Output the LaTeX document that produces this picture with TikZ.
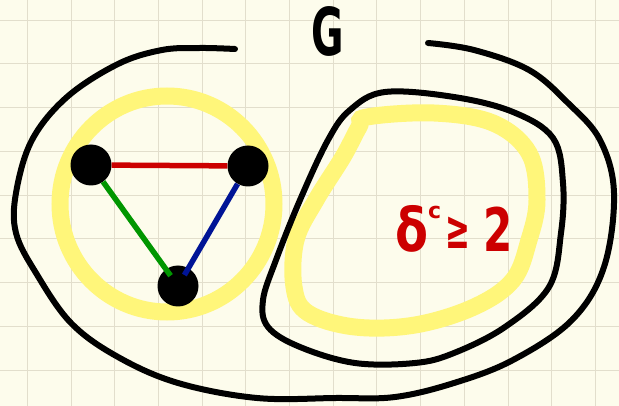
\documentclass[tikz,border=0pt]{standalone}
\usepackage{fontspec}
\setmainfont{DejaVu Sans}
\definecolor{paper}{RGB}{253,252,236}
\definecolor{gridc}{RGB}{226,222,204}
\definecolor{hilite}{RGB}{255,246,122}
\definecolor{inkred}{RGB}{204,0,0}
\definecolor{inkgreen}{RGB}{0,150,0}
\definecolor{inkblue}{RGB}{0,20,150}
\begin{document}
\begin{tikzpicture}[x=1pt, y=-1pt,
  ink/.style={line width=6pt, line cap=round, line join=round},
  hl/.style={line width=17pt, hilite},
  v/.style={circle, fill=black, minimum size=41pt, inner sep=0pt},
  e/.style={line width=5.5pt}]
\useasboundingbox (0,0) rectangle (619,406);
\fill[paper] (0,0) rectangle (619,406);
\foreach \i in {0,...,13} \draw[gridc, line width=0.9pt] (27.3+43.7*\i,0) -- (27.3+43.7*\i,406);
\foreach \j in {0,...,8} \draw[gridc, line width=0.9pt] (0,20+43.75*\j) -- (619,20+43.75*\j);
% highlighter
\draw[hl] (167,204) ellipse[x radius=107, y radius=108];
\draw[hl] plot[smooth cycle, tension=0.6] coordinates {(367,117) (434,113) (493,123) (529,153) (537,200) (529,240) (513,280) (474,307) (415,325) (355,327) (308,313) (294,287) (296,240) (316,200) (343,157) (359,127)};
% sets
\draw[ink] plot[smooth, tension=0.6] coordinates {(235,49) (200,48) (162,50) (118,64) (67,97) (32,140) (16,193) (16,233) (36,273) (71,323) (118,357) (178,383) (257,398) (336,398) (395,397) (454,383) (513,360) (572,320) (604,267) (614,193) (600,140) (568,103) (529,70) (474,50) (428,43)};
\draw[ink] plot[smooth cycle, tension=0.6] coordinates {(385,92) (454,97) (513,112) (553,138) (563,183) (561,233) (549,287) (505,327) (454,353) (415,363) (355,363) (300,347) (268,327) (263,300) (276,260) (300,200) (328,140) (350,110)};
% triangle
\node[v] (a) at (91,165) {};
\node[v] (b) at (248,166) {};
\node[v] (c) at (178,286) {};
\draw[e, inkred] (a) -- (b);
\draw[e, inkgreen, shorten >=-8pt] (a) -- (c);
\draw[e, inkblue, shorten >=-8pt] (b) -- (c);
\node[font=\bfseries\fontsize{66}{66}\selectfont, inner sep=0pt] (g) at (328,31) {\scalebox{0.6}[1]{G}};
\node[font=\bfseries\fontsize{60}{60}\selectfont, text=inkred, inner sep=0pt, anchor=base west] (deg) at (395,252)
  {\scalebox{0.8}[1]{δ}\raisebox{33pt}{\fontsize{22}{22}\selectfont c}\hspace{4pt}\raisebox{3pt}{\scalebox{0.55}[1]{\fontsize{54}{54}\selectfont ≥}}\hspace{13pt}\scalebox{0.7}[1]{2}};
\end{tikzpicture}
\end{document}
